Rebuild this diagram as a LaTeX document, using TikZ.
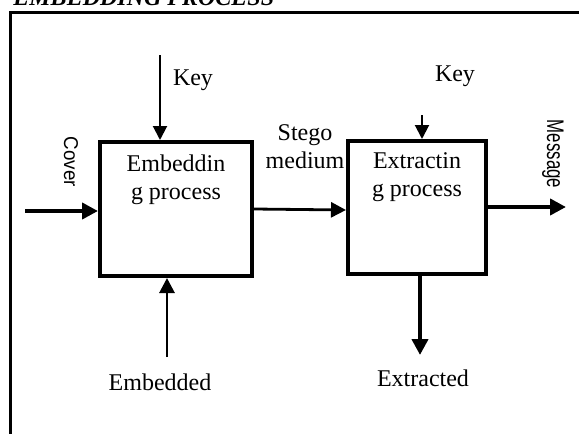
\documentclass[tikz,border=0pt]{standalone}
\usepackage{fontspec}
\setmainfont{Liberation Serif}
\newfontfamily\arialfont{Liberation Sans}
\usetikzlibrary{arrows.meta}
\begin{document}
\begin{tikzpicture}[x=0.5pt,y=-0.5pt,
  procbox/.style={draw,line width=2pt,inner sep=0pt},
  lbl/.style={font=\fontsize{12}{14}\selectfont,inner sep=0pt,align=center},
  sidelbl/.style={rotate=-90,anchor=center,inner sep=0pt,font=\arialfont},
  thinarr/.style={line width=1pt,-{Triangle[length=7pt,width=7pt]}},
  midarr/.style={line width=1.4pt,-{Triangle[length=7.5pt,width=7.5pt]}},
  thickarr/.style={line width=2pt,-{Triangle[length=8pt,width=8pt]}}]
\useasboundingbox (0,0) rectangle (579,434);
\fill[white] (0,0) rectangle (579,434);
% title (cut off at top, as in the reference)
\node[anchor=base west,inner sep=0pt,font=\fontsize{12}{14}\selectfont\bfseries\itshape] (title) at (13,5) {EMBEDDING PROCESS};
% frame
\coordinate (ftl) at (10,12);
\coordinate (ftr) at (582,12);
\coordinate (fbl) at (10,440);
\draw[line width=1.5pt] (ftr) -- (ftl) -- (fbl);
% boxes
\node[procbox,minimum width=76pt,minimum height=67pt] (emb) at (176,209) {};
\node[procbox,minimum width=69pt,minimum height=66.5pt] (ext) at (417,207.5) {};
\node[lbl,anchor=north] (embt) at (176,154) {Embeddin\\g process};
\node[lbl,anchor=north] (extt) at (417,152) {Extractin\\g process};
% key 1
\coordinate (k1s) at (160,55);
\draw[thinarr] (k1s) -- (k1s |- emb.north);
\node[lbl] (key1) at (193,80) {Key};
% key 2
\coordinate (k2s) at (422,115);
\draw[thinarr] (k2s) -- (k2s |- ext.north);
\node[lbl] (key2) at (455,76) {Key};
% cover
\coordinate (cvs) at (25,211);
\draw[thickarr] (cvs) -- (cvs -| emb.west);
\node[sidelbl] (cover) at (71,162) {\fontsize{10}{12}\selectfont\scalebox{0.94}[1]{Cover}};
% stego
\draw[midarr] (emb.east |- 0,209) -- (ext.west |- 0,210);
\node[lbl] (stego) at (305,147) {Stego\\medium};
% message
\coordinate (msge) at (566,207);
\draw[thickarr] (ext.east |- msge) -- (msge);
\node[sidelbl] (msg) at (553,154) {\fontsize{12}{14}\selectfont\scalebox{0.7}[1]{Message}};
% embedded
\coordinate (ebs) at (167,357);
\draw[midarr] (ebs) -- (ebs |- emb.south);
\node[lbl] (embd) at (160,382) {Embedded};
% extracted
\coordinate (exe) at (420,355);
\draw[thickarr] (ext.south -| exe) -- (exe);
\node[lbl] (extd) at (423,378) {Extracted};
\end{tikzpicture}
\end{document}
